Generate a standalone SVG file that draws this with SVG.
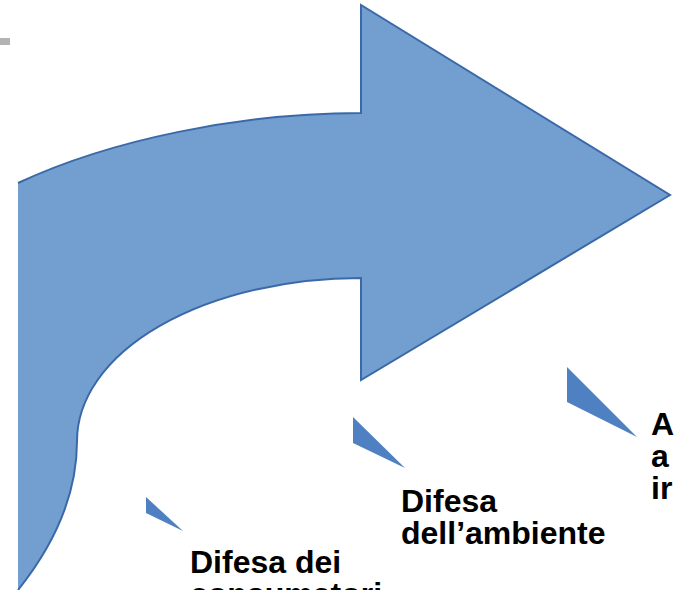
<svg xmlns="http://www.w3.org/2000/svg" width="674" height="590" viewBox="0 0 674 590">
  <style>
    .arrow-fill { fill: #729fd0; stroke: none; }
    .arrow-edge { fill: none; stroke: #3b69a8; stroke-width: 2; stroke-linejoin: miter; }
    .bullet { fill: #4f81c2; }
    .label { font-family: "Liberation Sans", Arial, sans-serif; font-weight: bold; font-size: 32px; fill: #000000; }
  </style>
  <rect id="corner-mark" x="0" y="38" width="10" height="7" fill="#b3b3b3"/>
  <g id="arrow">
    <path class="arrow-fill" d="M18,183 C110,140 240,113 361,113 L361,5 L670,195 L361,380 L361,278 A284,163 0 0 0 77,441 C77,500 50,550 18,590 Z"/>
    <path class="arrow-edge" d="M18,183 C110,140 240,113 361,113 L361,5 L670,195 L361,380 L361,278 A284,163 0 0 0 77,441 C77,500 50,550 18,590"/>
  </g>
  <g id="item-consumatori">
    <polygon class="bullet" points="146,497 146,513 183,531"/>
    <text class="label" x="190" y="573"><tspan x="190">Difesa dei</tspan><tspan x="190" dy="32">consumatori</tspan></text>
  </g>
  <g id="item-ambiente">
    <polygon class="bullet" points="353,417 353,443 405,468"/>
    <text class="label" x="401" y="512"><tspan x="401">Difesa</tspan><tspan x="401" dy="32">dell’ambiente</tspan></text>
  </g>
  <g id="item-right">
    <polygon class="bullet" points="567,367 567,402 637,437"/>
    <text class="label" x="651" y="435"><tspan x="651">A</tspan><tspan x="651" dy="32">a</tspan><tspan x="651" dy="32">ir</tspan></text>
  </g>
</svg>
